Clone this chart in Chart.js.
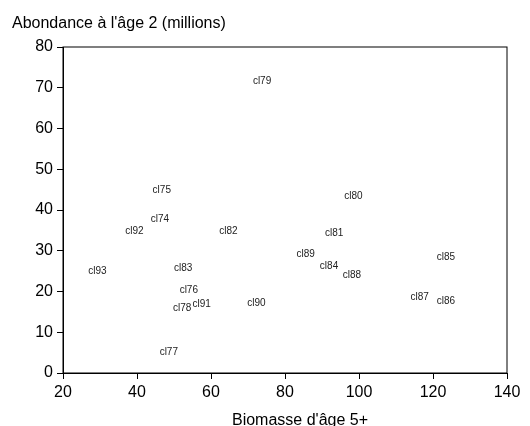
<!DOCTYPE html>
<html>
<head>
<meta charset="utf-8">
<script src="https://cdn.jsdelivr.net/npm/chart.js@4"></script>
<style>
  body { margin: 0; background: #fff; }
  #box { width: 530px; height: 426px; }
</style>
</head>
<body>
<div id="box"><canvas id="chart"></canvas></div>
<script>
"use strict";

// cohortes (classe d'âge) et valeurs
var cohortes = ["cl74", "cl75", "cl76", "cl77", "cl78", "cl79", "cl80", "cl81", "cl82", "cl83",
                "cl84", "cl85", "cl86", "cl87", "cl88", "cl89", "cl90", "cl91", "cl92", "cl93"];
var biomasse5 = [46.2, 46.7, 54.0, 48.6, 52.2, 73.8, 98.5, 93.3, 64.7, 52.5,
                 91.9, 123.5, 123.5, 116.4, 98.1, 85.6, 72.3, 57.5, 39.3, 29.3];
var abondance2 = [37.8, 44.9, 20.3, 5.2, 15.8, 71.7, 43.3, 34.4, 34.7, 25.8,
                  26.3, 28.5, 17.7, 18.7, 23.9, 29.1, 17.0, 16.8, 34.7, 24.9];

var xTicks = [20, 40, 60, 80, 100, 120, 140];
var yTicks = [0, 10, 20, 30, 40, 50, 60, 70, 80];

var FONT = "'Liberation Sans', Arial, sans-serif";

var points = [];
for (var i = 0; i < cohortes.length; i++) {
  points.push({ x: biomasse5[i], y: abondance2[i] });
}

// draws the cohort names where the points are, plus frame and titles
var textLabels = {
  id: "textLabels",
  afterDatasetsDraw: function(chart) {
    var ctx = chart.ctx;
    var area = chart.chartArea;
    ctx.save();
    ctx.strokeStyle = "#000";
    ctx.lineWidth = 1;
    ctx.strokeRect(area.left, area.top, area.right - area.left, area.bottom - area.top);

    ctx.fillStyle = "#222";
    ctx.font = "10px " + FONT;
    ctx.textAlign = "center";
    ctx.textBaseline = "middle";
    var meta = chart.getDatasetMeta(0);
    meta.data.forEach(function(pt, idx) {
      ctx.fillText(cohortes[idx], pt.x, pt.y);
    });

    ctx.fillStyle = "#000";
    ctx.font = "16px " + FONT;
    ctx.textBaseline = "alphabetic";
    ctx.textAlign = "left";
    ctx.fillText("Abondance à l'âge 2 (millions)", 12, 28);
    ctx.textAlign = "center";
    ctx.fillText("Biomasse d'âge 5+", 300, 425);
    ctx.restore();
  }
};

var ctx = document.getElementById("chart").getContext("2d");
var chart = new Chart(ctx, {
  type: "scatter",
  data: {
    datasets: [{
      data: points,
      pointRadius: 0,
      pointHoverRadius: 0
    }]
  },
  options: {
    responsive: true,
    maintainAspectRatio: false,
    animation: false,
    layout: { padding: { top: 47, right: 23, left: 0, bottom: 0 } },
    plugins: {
      legend: { display: false },
      tooltip: { enabled: false }
    },
    scales: {
      x: {
        type: "linear",
        min: xTicks[0],
        max: xTicks[xTicks.length - 1],
        afterBuildTicks: function(scale) {
          scale.ticks = xTicks.map(function(v) { return { value: v }; });
        },
        afterFit: function(scale) { scale.height = 53; },
        grid: { drawOnChartArea: false, drawTicks: true, tickLength: 6, color: "#000" },
        border: { display: true, color: "#000" },
        ticks: { color: "#000", font: { size: 16, family: FONT }, padding: 4, maxRotation: 0 }
      },
      y: {
        type: "linear",
        min: yTicks[0],
        max: yTicks[yTicks.length - 1],
        afterBuildTicks: function(scale) {
          scale.ticks = yTicks.map(function(v) { return { value: v }; });
        },
        afterFit: function(scale) { scale.width = 63; },
        grid: { drawOnChartArea: false, drawTicks: true, tickLength: 6, color: "#000" },
        border: { display: true, color: "#000" },
        ticks: { color: "#000", font: { size: 16, family: FONT }, padding: 4 }
      }
    }
  },
  plugins: [textLabels]
});
</script>
</body>
</html>
